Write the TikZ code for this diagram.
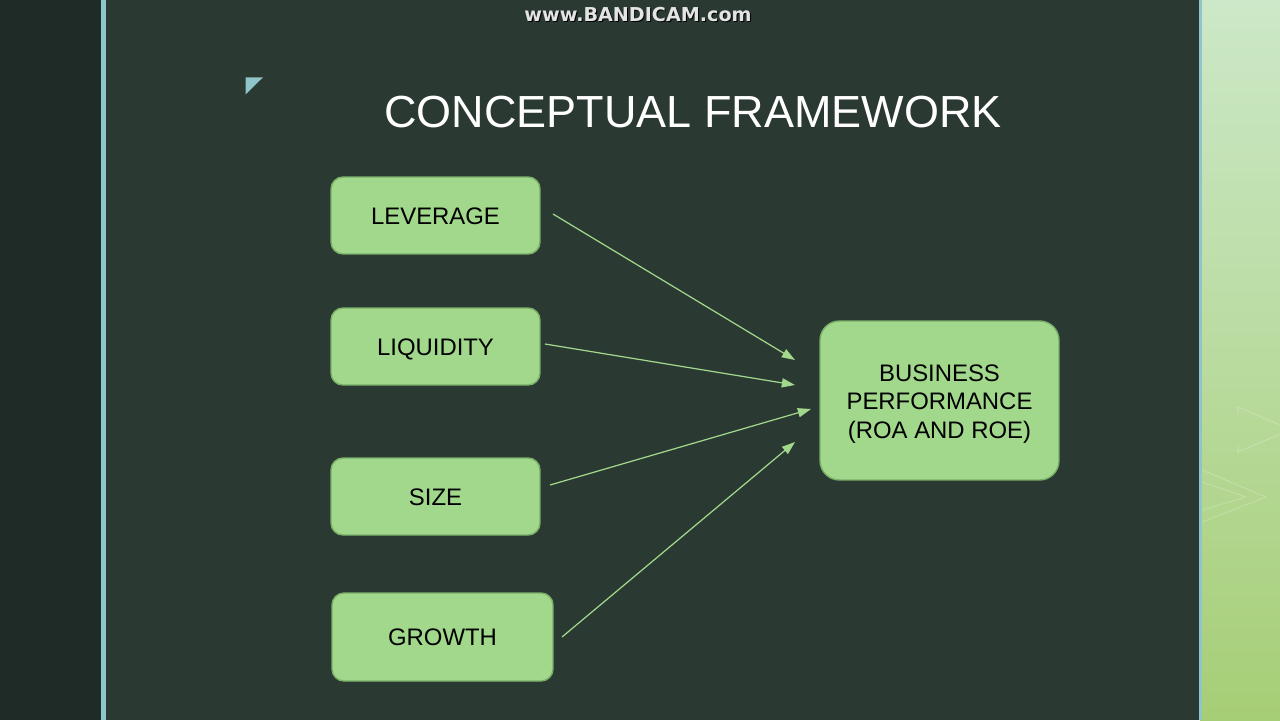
\documentclass[tikz,border=0pt]{standalone}
\usepackage{fontspec}
\setmainfont{Liberation Sans}
\newfontfamily\markfont{DejaVu Sans}
\usetikzlibrary{arrows.meta}
\definecolor{slide_bg}{RGB}{42,57,50}
\definecolor{strip_dark}{RGB}{30,43,39}
\definecolor{rule_cyan}{RGB}{143,196,200}
\definecolor{node_green}{RGB}{161,216,139}
\definecolor{edge_green}{RGB}{122,176,104}
\definecolor{side_top}{RGB}{204,232,200}
\definecolor{side_mid}{RGB}{184,222,160}
\definecolor{side_bot}{RGB}{166,206,118}
\definecolor{mark_gray}{RGB}{228,228,228}

\begin{document}
\begin{tikzpicture}[x=0.02cm,y=-0.02cm,line join=round]
    \tikzstyle{factor}=[draw=edge_green, fill=node_green, rounded corners=6.8pt, line width=0.8pt,
                        minimum width=4.18cm, minimum height=1.54cm, text=black,
                        font=\fontsize{13.6}{16.2}\selectfont, inner sep=0pt,
                        text height=9.8pt, text depth=0pt]
    \tikzstyle{result}=[draw=edge_green, fill=node_green, rounded corners=11pt, line width=0.8pt,
                        minimum width=4.78cm, minimum height=3.18cm, text=black, align=center,
                        font=\fontsize{13.6}{16.2}\selectfont, inner sep=0pt]
    \tikzstyle{link}=[draw=node_green, line width=0.7pt, -{Triangle[length=7.5pt,width=5.2pt]}]
    \tikzstyle{chevron}=[draw=white, opacity=0.2, line width=0.6pt]

    % slide background
    \useasboundingbox (0,0) rectangle (1280,720);
    \fill[slide_bg] (0,0) rectangle (1280,720);
    \fill[strip_dark] (0,0) rectangle (101,720);
    \fill[rule_cyan] (101,0) rectangle (106,720);
    \shade[top color=side_top, middle color=side_mid, bottom color=side_bot] (1200,0) rectangle (1280,720);
    \fill[rule_cyan] (1199,0) rectangle (1202,720);
    \draw[chevron] (1238,407) -- (1280,425) (1238,452) -- (1280,434) (1238,407) -- (1238,413) (1238,446) -- (1238,452);
    \draw[chevron] (1202,470) -- (1266,497) -- (1202,522) (1202,482) -- (1246,497) -- (1202,510);
    \fill[rule_cyan] (245.7,77.3) -- (263,77.3) -- (245.7,94.3) -- cycle;

    % watermark
    \node[text=black, font=\markfont\bfseries\fontsize{10.9}{13}\selectfont] (wms) at (639,16) {www.BANDICAM.com};
    \node[text=mark_gray, font=\markfont\bfseries\fontsize{10.9}{13}\selectfont] (wm) at (638,15) {www.BANDICAM.com};

    % title
    \node[text=white, font=\fontsize{25.6}{30}\selectfont] (title) at (693,112) {CONCEPTUAL FRAMEWORK};

    % factors and outcome
    \node[factor] (lev)  at (435.5,215.5) {LEVERAGE};
    \node[factor] (liq)  at (435.5,346.5) {LIQUIDITY};
    \node[factor] (size) at (435.5,496.5) {SIZE};
    \node[factor, minimum width=4.42cm, minimum height=1.76cm] (grow) at (442.5,637) {GROWTH};
    \node[result] (perf) at (939.5,400.5) {\rule{0pt}{13.2pt}BUSINESS\\PERFORMANCE\\(ROA AND ROE)};

    % arrow ends
    \coordinate (lev-o)  at (553,214);
    \coordinate (liq-o)  at (545,344);
    \coordinate (size-o) at (550,485);
    \coordinate (grow-o) at (562,637);
    \coordinate (in1) at (795,360);
    \coordinate (in2) at (795,385);
    \coordinate (in3) at (811,409);
    \coordinate (in4) at (795,442);

    \path
     (lev-o)  edge[link] (in1)
     (liq-o)  edge[link] (in2)
     (size-o) edge[link] (in3)
     (grow-o) edge[link] (in4)
     ;
\end{tikzpicture}
\end{document}
